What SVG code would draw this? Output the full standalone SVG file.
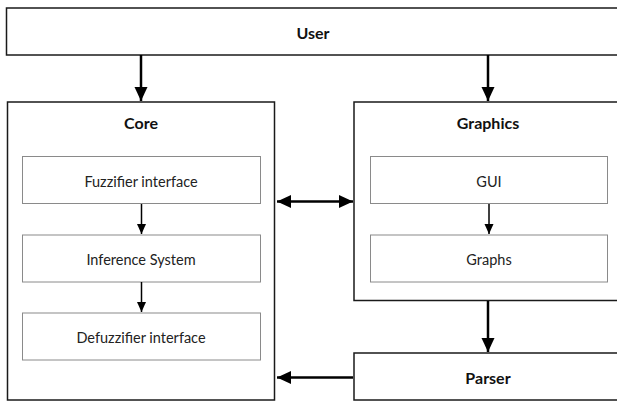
<svg xmlns="http://www.w3.org/2000/svg" width="617" height="401" viewBox="0 0 617 401">
<style>
.outer{fill:#fff;stroke:#1a1a1a;stroke-width:1.5}
.inner{fill:#fff;stroke:#8a8a8a;stroke-width:1}
.t{font-family:Lato,"Open Sans",sans-serif;font-size:14.5px;fill:#222;text-anchor:middle;dominant-baseline:central}
.b{font-family:Lato,"Open Sans",sans-serif;font-size:16px;font-weight:bold;fill:#111;text-anchor:middle;dominant-baseline:central}
.big{stroke:#000;stroke-width:2.5;fill:none}
.small{stroke:#000;stroke-width:1.5;fill:none}
</style>
<defs>
<marker id="ah" markerUnits="userSpaceOnUse" markerWidth="14" markerHeight="14" viewBox="0 0 14 14" refX="14" refY="7" orient="auto-start-reverse">
<path d="M0,0.5 L14,7 L0,13.5 z" fill="#000"/>
</marker>
<marker id="as" markerUnits="userSpaceOnUse" markerWidth="10" markerHeight="10" viewBox="0 0 10 10" refX="10" refY="5" orient="auto">
<path d="M0,0.5 L10,5 L0,9.5 z" fill="#000"/>
</marker>
</defs>
<rect width="617" height="401" fill="#fff"/>
<g id="user"><rect class="outer" x="6.5" y="8" width="620" height="47"/><text class="b" x="313" y="32">User</text></g>
<g id="core"><rect class="outer" x="7.5" y="102" width="267" height="298"/><text class="b" x="141" y="122">Core</text>
<g id="fuzzifier"><rect class="inner" x="22.5" y="156.5" width="238" height="47"/><text class="t" x="141" y="181">Fuzzifier interface</text></g>
<g id="inference"><rect class="inner" x="22.5" y="235" width="238" height="47"/><text class="t" x="141" y="259">Inference System</text></g>
<g id="defuzzifier"><rect class="inner" x="22.5" y="313" width="238" height="47"/><text class="t" x="141" y="337">Defuzzifier interface</text></g>
</g>
<g id="graphics"><rect class="outer" x="354" y="102" width="270" height="198.5"/><text class="b" x="488" y="122">Graphics</text>
<g id="gui"><rect class="inner" x="370.5" y="156.5" width="237" height="47"/><text class="t" x="489" y="181">GUI</text></g>
<g id="graphs"><rect class="inner" x="370.5" y="235" width="237" height="47"/><text class="t" x="489" y="259">Graphs</text></g>
</g>
<g id="parser"><rect class="outer" x="354" y="353" width="270" height="47"/><text class="b" x="488" y="377">Parser</text></g>
<g id="connectors">
<line class="big" x1="141" y1="55" x2="141" y2="101" marker-end="url(#ah)"/>
<line class="big" x1="488" y1="55" x2="488" y2="101" marker-end="url(#ah)"/>
<line class="big" x1="277" y1="201.5" x2="353" y2="201.5" marker-start="url(#ah)" marker-end="url(#ah)"/>
<line class="big" x1="488" y1="301" x2="488" y2="352" marker-end="url(#ah)"/>
<line class="big" x1="353" y1="377.5" x2="277" y2="377.5" marker-end="url(#ah)"/>
<line class="small" x1="141.5" y1="204" x2="141.5" y2="234" marker-end="url(#as)"/>
<line class="small" x1="141.5" y1="282" x2="141.5" y2="312" marker-end="url(#as)"/>
<line class="small" x1="489" y1="204" x2="489" y2="234" marker-end="url(#as)"/>
</g>
</svg>
